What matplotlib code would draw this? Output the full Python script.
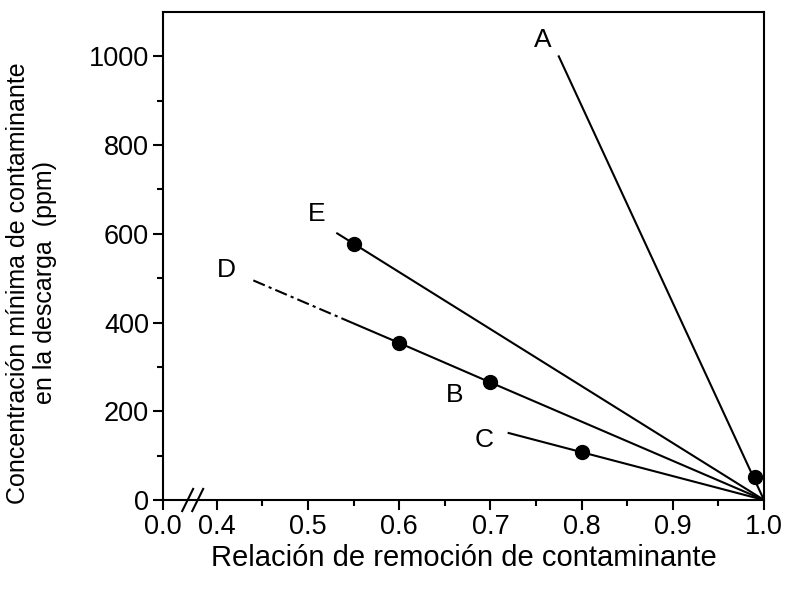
import matplotlib.pyplot as plt

plt.rcParams['font.family'] = ['Liberation Sans', 'DejaVu Sans']

# Data
# line B (extended as D with dash-dot), solid part
b_x = [0.55, 0.60, 0.70, 1.00]
b_y = [398, 354, 265, 0]
d_x = [0.44, 0.55]
d_y = [495, 398]
b_pts_x = [0.60, 0.70]
b_pts_y = [354, 265]

a_x = [0.775, 1.00]
a_y = [1000, 0]
a_pts_x = [0.99]
a_pts_y = [52]

e_x = [0.532, 1.00]
e_y = [601, 0]
e_pts_x = [0.55]
e_pts_y = [578]

c_x = [0.72, 1.00]
c_y = [151, 0]
c_pts_x = [0.80]
c_pts_y = [108]

labels = ['A', 'B', 'C', 'D', 'E']
label_x = [0.757, 0.661, 0.693, 0.411, 0.509]
label_y = [1038, 237, 135, 519, 645]

# the axis is broken: "0.0" sits at a pseudo position left of 0.4
x_zero = 0.341
xticks = [x_zero, 0.4, 0.5, 0.6, 0.7, 0.8, 0.9, 1.0]
xticklabels = ['0.0', '0.4', '0.5', '0.6', '0.7', '0.8', '0.9', '1.0']
xminor = [0.45, 0.55, 0.65, 0.75, 0.85, 0.95]

fig = plt.figure(figsize=(7.88, 5.89), dpi=100)
ax = fig.add_axes([0.2069, 0.1511, 0.9695 - 0.2069, 0.9796 - 0.1511])

lw = 1.5
ax.plot(a_x, a_y, color='black', lw=lw)
ax.plot(e_x, e_y, color='black', lw=lw)
ax.plot(b_x, b_y, color='black', lw=lw)
ax.plot(d_x, d_y, color='black', lw=lw, linestyle=(0, (6, 2, 1.5, 2)))
ax.plot(c_x, c_y, color='black', lw=lw)

ms = 10
for px, py in [(a_pts_x, a_pts_y), (e_pts_x, e_pts_y), (b_pts_x, b_pts_y), (c_pts_x, c_pts_y)]:
    ax.plot(px, py, 'o', color='black', markersize=ms, clip_on=False, zorder=5)

for t, x, y in zip(labels, label_x, label_y):
    ax.text(x, y, t, fontsize=19, ha='center', va='center')

ax.set_xlim(x_zero, 1.0)
ax.set_ylim(0, 1100)
ax.set_xticks(xticks)
ax.set_xticklabels(xticklabels)
ax.set_xticks(xminor, minor=True)
ax.set_yticks([0, 200, 400, 600, 800, 1000])
ax.set_yticks([100, 300, 500, 700, 900], minor=True)

ax.tick_params(which='major', direction='out', length=7, width=1.5, labelsize=19.5, pad=3)
ax.tick_params(which='minor', direction='out', length=4, width=1.5)
for s in ax.spines.values():
    s.set_linewidth(1.5)

# break marks on the x axis
for xb in [0.368, 0.379]:
    ax.plot([xb - 0.006, xb + 0.006], [-25, 25], color='black', lw=1.5, clip_on=False)

ax.set_xlabel('Relación de remoción de contaminante', fontsize=21, labelpad=3)
ax.set_ylabel('Concentración mínima de contaminante\nen la descarga  (ppm)', fontsize=18,
              linespacing=1.15)
ax.yaxis.set_label_coords(-0.176, 0.445)

fig.savefig('out.png', dpi=100)
